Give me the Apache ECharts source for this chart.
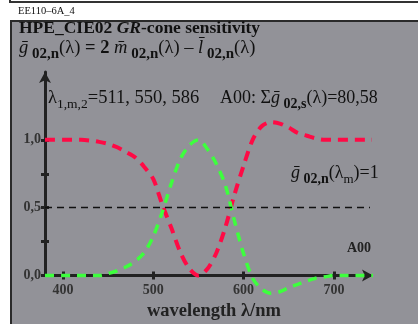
<!DOCTYPE html>
<html>
<head>
<meta charset="utf-8">
<script src="https://cdn.jsdelivr.net/npm/echarts@6/dist/echarts.min.js"></script>
<style>html,body{margin:0;padding:0;background:#fff}#c{width:418px;height:324px}</style>
</head>
<body>
<div id="c"></div>
<script>
const wavelengths = [380,390,400,410,420,430,440,450,460,470,480,490,500,510,520,530,540,550,560,570,580,590,600,610,620,630,640,650,660,670,680,690,700,710,720,730,740,750];
const greenValues = [0,0,0,0,0,0,0,0.015,0.035,0.065,0.105,0.17,0.29,0.47,0.68,0.86,0.96,1.0,0.93,0.82,0.66,0.40,0.16,-0.02,-0.10,-0.13,-0.12,-0.09,-0.065,-0.04,-0.02,-0.01,0,0,0,0,0,0];
const redValues = [1,1,1,1,1,0.995,0.985,0.97,0.945,0.91,0.87,0.80,0.71,0.52,0.35,0.17,0.05,0.0,0.05,0.17,0.36,0.60,0.81,1.0,1.10,1.13,1.12,1.09,1.05,1.03,1.01,1.0,1,1,1,1,1,1];
const xTickValues = [400,500,600,700];
const yTickValues = [0,0.25,0.5,0.75,1];
const yLabelValues = [0,0.5,1];
const yLabelTexts = ['0,0','0,5','1,0'];
const refLineValue = 0.5;

const SERIF = '"Liberation Serif","Times New Roman",serif';
const chart = echarts.init(document.getElementById('c'), null, {renderer:'canvas'});

function makeRich(fs, sfs) {
  const norm = {fontFamily:SERIF, fontSize:fs, color:'#111', lineHeight:fs + 3, verticalAlign:'bottom', padding:[0,0,4,0]};
  return {
    r: Object.assign({}, norm),
    b: Object.assign({}, norm, {fontWeight:'bold'}),
    bi: Object.assign({}, norm, {fontWeight:'bold', fontStyle:'italic'}),
    gi: Object.assign({}, norm, {fontStyle:'italic'}),
    sb: {fontFamily:SERIF, fontSize:sfs, fontWeight:'bold', color:'#111', lineHeight:sfs + 3, verticalAlign:'bottom'},
    s: {fontFamily:SERIF, fontSize:sfs - 1, color:'#111', lineHeight:sfs + 3, verticalAlign:'bottom'}
  };
}
const richTitle = makeRich(17.5, 14);
const rich18 = makeRich(18, 14);
const richL2 = makeRich(18.5, 15);
const richL3 = makeRich(18.5, 14.5);

function txt(x, y, text, r) {
  return {type:'text', x:x, y:y, z:100, style:{text:text, rich:r, fill:'#111', font:'18px ' + SERIF}};
}

const axisColor = '#222';
const option = {
  backgroundColor:'#fff',
  animation:false,
  grid:{left:45, top:72, width:325, height:203.5, containLabel:false},
  xAxis:[{
    type:'value', min:380, max:740,
    axisLine:{show:true, onZero:false, lineStyle:{color:axisColor, width:3}, symbol:['none','arrow'], symbolSize:[9,11], symbolOffset:[0,3]},
    axisTick:{show:true, customValues:xTickValues, length:4, lineStyle:{color:axisColor, width:3}},
    axisLabel:{customValues:xTickValues, margin:8, fontFamily:SERIF, fontWeight:'bold', fontSize:14, color:'#333'},
    splitLine:{show:false}
  },{
    type:'value', min:380, max:740, position:'bottom',
    axisLine:{show:false},
    axisTick:{show:true, inside:true, customValues:xTickValues, length:4, lineStyle:{color:axisColor, width:3}},
    axisLabel:{show:false}, splitLine:{show:false}
  }],
  yAxis:[{
    type:'value', min:0, max:1.5,
    axisLine:{show:true, onZero:false, lineStyle:{color:axisColor, width:3}, symbol:['none','arrow'], symbolSize:[9,11]},
    axisTick:{show:true, customValues:yTickValues, length:4, lineStyle:{color:axisColor, width:3}},
    axisLabel:{customValues:yLabelValues, margin:4, fontFamily:SERIF, fontWeight:'bold', fontSize:14, color:'#333',
      formatter:function(v){ const i = yLabelValues.indexOf(v); return i >= 0 ? yLabelTexts[i] : ''; }},
    splitLine:{show:false}
  },{
    type:'value', min:0, max:1.5, position:'left',
    axisLine:{show:false},
    axisTick:{show:true, inside:true, customValues:yTickValues, length:4, lineStyle:{color:axisColor, width:3}},
    axisLabel:{show:false}, splitLine:{show:false}
  }],
  series:[{
    type:'line', clip:false, smooth:0.3, symbol:'none',
    data: wavelengths.map((w,i)=>[w, redValues[i]]),
    lineStyle:{color:'#ff0a45', width:4, type:[10,7]},
    markLine:{silent:true, symbol:['none','none'], label:{show:false},
      lineStyle:{color:'#111', width:1.3, type:[7,5]},
      data:[[{coord:[380, refLineValue]},{coord:[740, refLineValue]}]]}
  },{
    type:'line', clip:false, smooth:0.3, symbol:'none',
    data: wavelengths.map((w,i)=>[w, greenValues[i]]),
    lineStyle:{color:'#3dff3d', width:3.5, type:[9,7]}
  }],
  graphic:[
    {type:'rect', z:-100, shape:{x:10, y:-20, width:420, height:22}, style:{fill:'#fff', stroke:'#333', lineWidth:2}},
    {type:'rect', z:-100, shape:{x:11, y:21, width:420, height:320}, style:{fill:'#929298', stroke:'#2a2a2a', lineWidth:2}},
    {type:'text', x:18, y:6, z:100, style:{text:'EE110–6A_4', font:'10.5px ' + SERIF, fill:'#111'}},
    txt(19, 21, '{b|HPE_CIE02 }{bi|GR}{b|-cone sensitivity}', richTitle),
    txt(19, 40, '{gi|ḡ}{sb| 02,n}{r|(λ) }{b|= 2 }{gi|m̄}{sb| 02,n}{r|(λ) – }{gi|l̄}{sb| 02,n}{r|(λ)}', richL2),
    txt(48, 90, '{r|λ}{s|1,m,2}{r|=511, 550, 586}', richL3),
    txt(220, 90, '{r|A00: Σ}{gi|ḡ}{sb| 02,s}{r|(λ)=80,58}', rich18),
    txt(291, 165, '{gi|ḡ}{sb| 02,n}{r|(λ}{s|m}{r|)=1}', rich18),
    {type:'text', x:347, y:241, z:100, style:{text:'A00', font:'bold 14px ' + SERIF, fill:'#222'}},
    {type:'text', x:147, y:302, z:100, style:{text:'wavelength λ/nm', font:'bold 18.5px ' + SERIF, fill:'#222'}}
  ]
};
chart.setOption(option);
</script>
</body>
</html>
